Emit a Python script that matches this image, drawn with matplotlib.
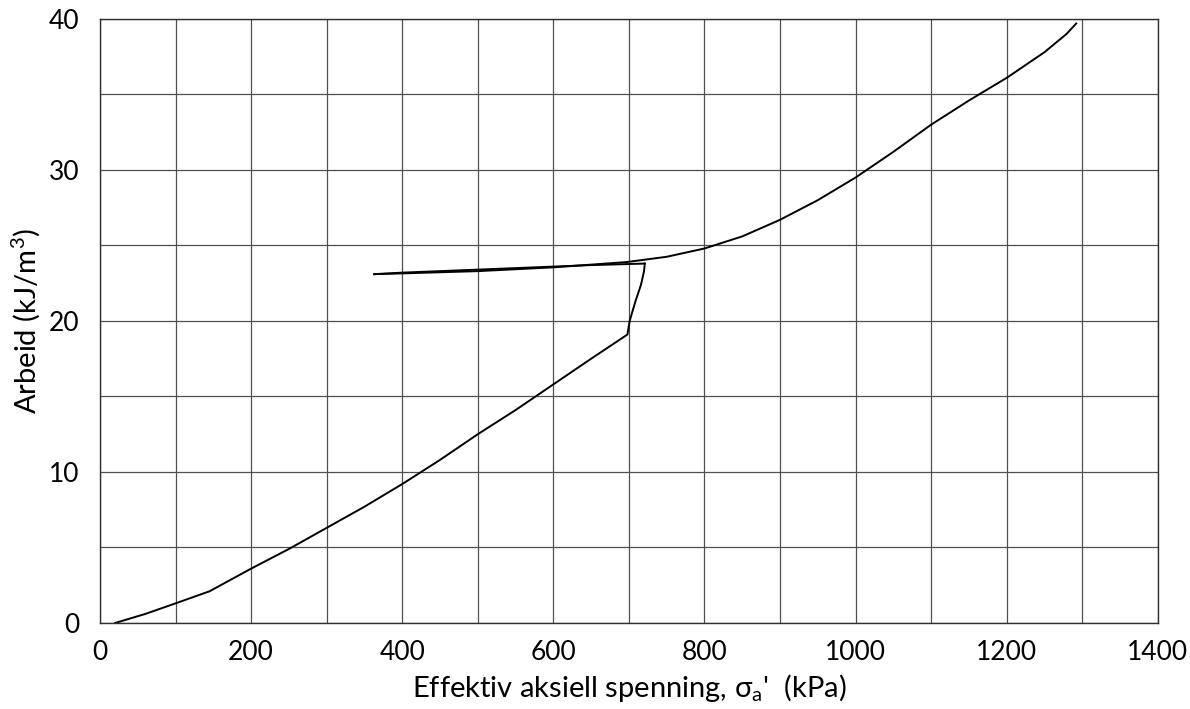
import numpy as np
import matplotlib.pyplot as plt
from matplotlib.ticker import MultipleLocator

# loading branch up to the first unloading point
sigma_load = [20, 60, 100, 145, 200, 250, 300, 350, 400, 450, 500, 550,
              600, 650, 698, 701, 708, 716, 720, 721]
work_load = [0.0, 0.6, 1.3, 2.1, 3.6, 4.9, 6.3, 7.7, 9.2, 10.8, 12.5, 14.1,
             15.8, 17.5, 19.1, 20.0, 21.2, 22.4, 23.3, 23.8]

# unloading branch
sigma_unload = [721, 650, 600, 500, 400, 363]
work_unload = [23.8, 23.7, 23.6, 23.4, 23.2, 23.1]

# reloading branch and continued loading
sigma_reload = [363, 400, 500, 600, 697, 750, 800, 850, 900, 950, 1000,
                1050, 1100, 1150, 1200, 1250, 1279, 1292]
work_reload = [23.1, 23.15, 23.3, 23.55, 23.9, 24.25, 24.8, 25.6, 26.7,
               28.0, 29.5, 31.2, 33.0, 34.6, 36.1, 37.8, 39.0, 39.7]

plt.rcParams['font.family'] = ['Lato', 'DejaVu Sans']
plt.rcParams['mathtext.default'] = 'regular'

fig = plt.figure(figsize=(11.9, 7.09), dpi=100)
ax = fig.add_axes([0.084, 0.1213, 0.889, 0.852])

ax.plot(sigma_load, work_load, 'k-', lw=1.4)
ax.plot(sigma_unload, work_unload, 'k-', lw=1.4)
ax.plot(sigma_reload, work_reload, 'k-', lw=1.4)

ax.set_xlim(0, 1400)
ax.set_ylim(0, 40)
ax.xaxis.set_major_locator(MultipleLocator(200))
ax.xaxis.set_minor_locator(MultipleLocator(100))
ax.yaxis.set_major_locator(MultipleLocator(10))
ax.yaxis.set_minor_locator(MultipleLocator(5))
ax.grid(True, which='both', color='#505050', lw=0.9)
ax.set_axisbelow(True)
ax.tick_params(which='both', length=0, labelsize=19)
ax.tick_params(axis='x', pad=12)
ax.tick_params(axis='y', pad=15)
for sp in ax.spines.values():
    sp.set_color('#303030')
    sp.set_linewidth(1.0)

ax.set_xlabel("Effektiv aksiell spenning, σ$_{a}$'  (kPa)", fontsize=21,
              labelpad=5)
ax.set_ylabel("Arbeid (kJ/m$^{3}$)", fontsize=21, labelpad=5)

fig.savefig('out.png', dpi=100)
